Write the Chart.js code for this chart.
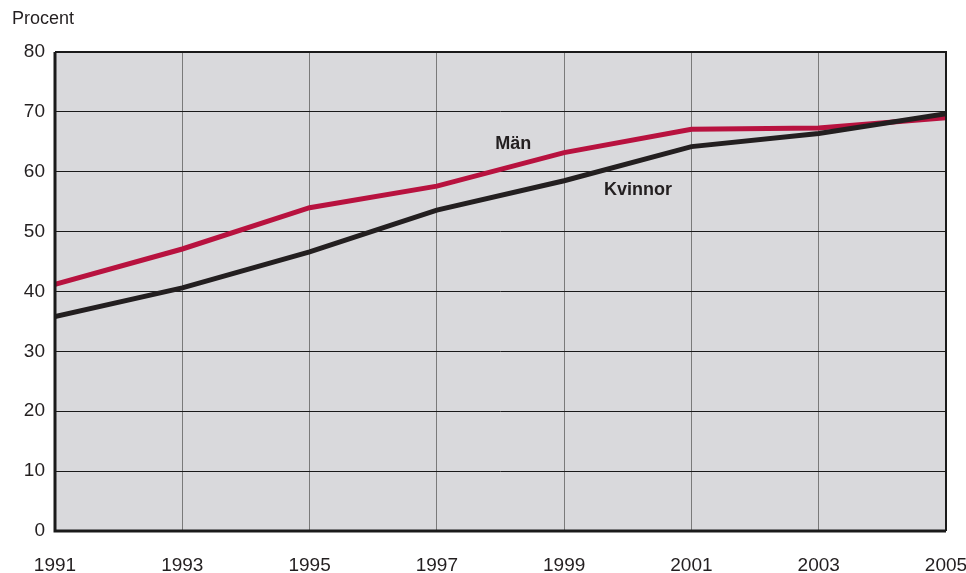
<!DOCTYPE html>
<html><head><meta charset="utf-8">
<script src="https://cdn.jsdelivr.net/npm/chart.js@4/dist/chart.umd.min.js"></script>
<style>html,body{margin:0;padding:0;background:#fff;}#wrap{width:966px;height:573px;position:relative;}</style>
</head><body><div id="wrap"><canvas id="c" width="966" height="573"></canvas></div>
<script>
const years = [1991, 1993, 1995, 1997, 1999, 2001, 2003, 2005];
const man = [41.2, 47.1, 54.0, 57.6, 63.2, 67.1, 67.3, 69.0];
const kvinnor = [35.8, 40.6, 46.6, 53.6, 58.5, 64.2, 66.4, 69.7];
const yTicks = [0, 10, 20, 30, 40, 50, 60, 70, 80];
const yTitle = 'Procent';
const seriesNames = ['Män', 'Kvinnor'];

const FONT = "'Liberation Sans', Arial, sans-serif";

const bgPlugin = {
  id: 'bg',
  beforeDraw(chart) {
    const {ctx, chartArea: a} = chart;
    ctx.save();
    ctx.fillStyle = '#d9d9dc';
    ctx.fillRect(a.left, a.top, a.right - a.left, a.bottom - a.top);
    ctx.restore();
  },
  afterDraw(chart) {
    const {ctx, chartArea: a, scales} = chart;
    ctx.save();
    ctx.strokeStyle = '#1a1a1a';
    ctx.lineWidth = 2;
    ctx.beginPath();
    ctx.moveTo(a.left, a.top); ctx.lineTo(a.right, a.top); ctx.lineTo(a.right, a.bottom);
    ctx.stroke();
    ctx.lineWidth = 3;
    ctx.beginPath();
    ctx.moveTo(a.left, a.top); ctx.lineTo(a.left, a.bottom); ctx.lineTo(a.right, a.bottom);
    ctx.stroke();
    ctx.fillStyle = '#231f20';
    ctx.font = "18px " + FONT;
    ctx.textAlign = 'left'; ctx.textBaseline = 'middle';
    ctx.fillText(yTitle, 12, 19);
    ctx.font = "bold 18px " + FONT;
    ctx.textAlign = 'center';
    ctx.fillText(seriesNames[0], scales.x.getPixelForValue(1998.2), scales.y.getPixelForValue(64.7));
    ctx.fillText(seriesNames[1], scales.x.getPixelForValue(2000.16), scales.y.getPixelForValue(57.0));
    ctx.restore();
  }
};

new Chart(document.getElementById('c'), {
  type: 'line',
  data: {
    datasets: [
      { label: seriesNames[0], data: years.map((x, i) => ({x, y: man[i]})), borderColor: '#b8123f', borderWidth: 5, pointRadius: 0, tension: 0, order: 2 },
      { label: seriesNames[1], data: years.map((x, i) => ({x, y: kvinnor[i]})), borderColor: '#231f20', borderWidth: 5, pointRadius: 0, tension: 0, order: 1 }
    ]
  },
  options: {
    responsive: false,
    animation: false,
    layout: { padding: { left: 0, right: 0, top: 52, bottom: 0 } },
    plugins: { legend: { display: false }, tooltip: { enabled: false } },
    scales: {
      x: {
        type: 'linear', min: years[0], max: years[years.length - 1],
        afterBuildTicks: s => { s.ticks = years.map(v => ({value: v})); },
        afterFit: s => { s.height = 42; s.paddingRight = 20; },
        grid: { color: '#7a7a7a', lineWidth: 1, drawTicks: false },
        border: { display: false },
        ticks: { color: '#231f20', font: { family: FONT, size: 19 }, padding: 23, maxRotation: 0, callback: v => String(v) }
      },
      y: {
        min: 0, max: 80,
        afterBuildTicks: s => { s.ticks = yTicks.map(v => ({value: v})); },
        afterFit: s => { s.width = 55; },
        grid: { color: '#1a1a1a', lineWidth: 1, drawTicks: false },
        border: { display: false },
        ticks: { color: '#231f20', font: { family: FONT, size: 19 }, padding: 10 }
      }
    }
  },
  plugins: [bgPlugin]
});
</script></body></html>
